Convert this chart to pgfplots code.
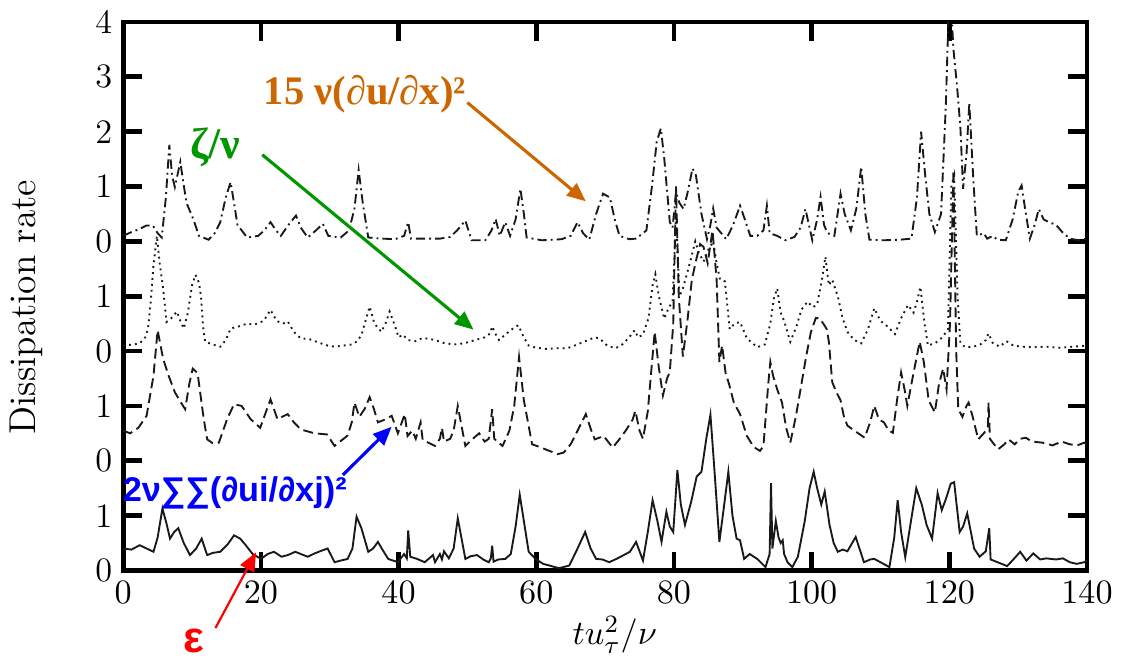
\documentclass[border=0pt]{standalone}
\usepackage{fontspec}
\usepackage{pgfplots}
\pgfplotsset{compat=1.18}
\usepackage{pgfplotstable}
\usetikzlibrary{arrows.meta}
\newfontfamily\annserif{Liberation Serif}
\newfontfamily\annsans{Liberation Sans}
\definecolor{annorange}{RGB}{204,102,0}
\definecolor{anngreen}{RGB}{0,150,0}
\definecolor{annblue}{RGB}{0,0,255}
\definecolor{annred}{RGB}{255,0,0}

% epsilon (solid, offset 0)
\pgfplotstableread{
x v
0 0.40
1.2 0.38
2.4 0.46
3.4 0.40
4.4 0.34
5.0 0.60
5.7 1.13
6.3 0.85
6.8 0.58
7.4 0.70
8.0 0.77
8.8 0.50
9.7 0.28
10.6 0.40
11.4 0.58
12.2 0.28
13.0 0.32
14.1 0.34
15.2 0.48
16.1 0.64
17.0 0.58
17.8 0.46
18.8 0.30
20.0 0.21
21.0 0.30
21.9 0.34
23.0 0.25
23.9 0.28
25.0 0.34
25.8 0.30
26.8 0.25
27.8 0.31
28.8 0.36
29.7 0.40
30.7 0.15
31.6 0.18
32.6 0.21
33.3 0.40
33.9 0.98
34.6 0.77
35.6 0.34
36.3 0.40
37.0 0.52
37.8 0.35
38.5 0.21
39.9 0.15
40.8 0.30
41.2 0.22
41.4 0.73
41.7 0.25
42.7 0.21
43.8 0.15
45.0 0.28
45.3 0.15
46.0 0.30
46.3 0.20
46.6 0.35
47.3 0.22
48.0 0.40
48.6 0.95
49.2 0.55
49.7 0.21
50.5 0.26
51.4 0.28
52.3 0.20
53.1 0.15
53.4 0.22
53.6 0.45
53.8 0.16
54.5 0.20
55.5 0.21
56.3 0.30
57.0 0.80
57.6 1.38
58.2 0.90
58.9 0.34
59.9 0.21
61.0 0.12
61.9 0.09
63.3 0.04
64.8 0.09
66.0 0.40
67.1 0.70
67.9 0.40
68.7 0.21
69.6 0.20
70.6 0.15
71.8 0.22
73.0 0.30
73.6 0.34
74.5 0.52
75.5 0.18
76.2 0.70
76.9 1.28
77.6 0.90
78.2 0.52
78.9 1.07
79.4 0.80
79.9 0.70
80.5 1.83
81.0 1.20
81.6 0.83
82.5 1.25
83.3 1.71
84.0 1.80
84.7 2.40
85.3 2.84
85.9 1.80
86.6 0.52
87.2 1.10
87.9 1.80
88.5 1.00
89.1 0.58
89.6 0.55
90.2 0.21
91.0 0.30
92.1 0.21
93.3 0.06
93.9 0.30
94.1 1.59
94.3 0.40
94.6 0.70
94.8 0.90
95.2 0.60
95.5 0.50
95.8 0.55
96.0 0.30
96.5 0.15
97.2 0.06
98.0 0.25
99.0 0.90
99.7 1.50
100.3 1.80
100.8 1.50
101.4 1.20
101.9 1.44
102.6 0.83
103.2 0.50
103.8 0.34
104.5 0.38
105.2 0.35
106.4 0.61
107.6 0.15
108.5 0.20
109.1 0.21
110.0 0.15
111.3 0.06
112.0 0.60
112.5 1.28
113.0 0.70
113.6 0.24
114.3 0.80
115.2 1.50
116.0 1.20
116.7 0.83
117.5 0.58
118.3 1.41
118.9 1.10
119.5 1.30
120.2 1.58
120.7 1.61
121.5 0.70
122.0 0.80
122.6 1.04
123.6 0.40
124.4 0.25
125.3 0.35
125.8 0.77
126.0 0.20
127.0 0.15
128.4 0.08
129.3 0.20
130.3 0.34
131.2 0.18
132.2 0.31
133.2 0.20
134.1 0.22
135.5 0.20
136.5 0.22
137.5 0.15
138.5 0.12
139.6 0.15
140 0.18
}\epsdata

% 2 nu sum sum (dui/dxj)^2 (dashed, offset 2)
\pgfplotstableread{
x v
0 0.55
1.0 0.50
2.2 0.60
3.4 0.82
4.4 1.55
5.0 2.38
5.8 1.86
6.6 1.55
7.5 1.25
8.2 1.10
9.0 0.94
9.6 1.40
10.1 1.68
10.8 1.60
11.7 0.76
12.2 0.39
13.0 0.32
13.9 0.33
15.1 0.76
16.1 1.03
17.2 1.00
18.5 0.76
19.9 0.60
21.4 1.12
22.4 0.76
23.9 0.85
24.8 0.70
25.8 0.57
27.8 0.50
29.6 0.48
30.7 0.27
31.5 0.35
32.6 0.46
33.2 0.70
33.6 1.06
34.3 0.80
35.1 0.95
35.8 1.16
36.4 0.95
37.0 0.70
38.0 0.75
39.0 0.82
39.9 0.50
40.9 0.85
41.3 0.45
42.0 0.55
42.5 0.40
43.2 0.70
43.5 0.38
44.3 0.33
45.3 0.27
46.0 0.40
46.3 0.60
46.6 0.35
47.5 0.40
48.0 0.55
48.6 1.00
49.2 0.60
49.7 0.27
50.6 0.38
51.7 0.50
52.5 0.35
53.1 0.40
53.6 0.94
53.9 0.40
55.1 0.27
56.1 0.55
56.8 1.00
57.5 1.89
58.2 1.10
59.4 0.30
60.5 0.25
61.5 0.20
63.1 0.12
64.0 0.15
65.0 0.30
66.2 0.60
67.2 0.85
68.0 0.55
68.5 0.39
69.8 0.45
71.1 0.24
72.0 0.38
73.0 0.55
74.0 0.75
74.4 0.91
75.0 0.55
75.5 0.40
76.2 0.90
77.2 2.35
77.8 1.70
78.4 1.19
79.0 1.50
79.4 1.62
79.9 2.50
80.3 5.00
80.7 3.00
81.3 1.90
82.0 2.60
82.6 3.30
83.3 3.70
83.8 3.95
84.3 3.90
84.9 3.60
85.6 4.20
86.2 3.30
86.6 1.80
87.0 2.10
87.5 1.60
88.0 1.40
88.7 1.06
89.6 0.85
90.6 0.45
91.6 0.25
92.5 0.18
93.0 0.27
93.7 1.40
94.0 1.80
94.4 1.55
95.0 1.30
95.7 1.06
96.3 0.60
96.9 0.33
97.7 0.80
98.4 1.31
99.2 1.90
99.9 2.35
100.6 2.60
101.1 2.60
101.7 2.50
102.2 2.40
102.5 2.17
103.0 1.43
103.6 1.25
104.2 1.10
104.7 0.80
105.2 0.64
106.2 0.55
107.7 0.42
108.5 0.70
109.1 1.00
109.8 0.75
110.5 0.70
111.2 0.55
111.8 0.51
112.4 1.10
113.0 1.61
113.5 1.30
113.9 1.00
114.8 1.60
115.7 2.17
116.3 1.80
117.0 1.10
117.9 0.88
118.5 1.40
119.1 1.68
119.6 1.30
120.1 2.50
120.6 5.30
121.0 2.00
121.3 0.94
121.9 0.80
122.5 1.00
122.8 1.06
123.4 0.80
124.2 0.39
125.0 0.50
125.6 0.60
125.7 1.06
125.9 0.40
126.5 0.30
127.1 0.21
128.0 0.30
128.6 0.39
129.5 0.30
130.3 0.40
131.1 0.42
132.0 0.35
133.5 0.33
135.0 0.28
136.3 0.35
137.5 0.30
138.6 0.28
139.6 0.33
140 0.30
}\gradsum

% zeta/nu (dotted, offset 4)
\pgfplotstableread{
x v
0 0.10
1.5 0.12
2.4 0.14
3.2 0.25
3.6 0.40
4.0 0.90
4.4 1.57
4.9 2.10
5.3 1.60
5.8 1.14
6.3 0.53
7.0 0.60
7.8 0.72
8.3 0.55
8.8 0.41
9.4 0.70
10.0 1.20
10.5 1.39
11.0 1.25
11.3 1.00
11.6 0.45
11.9 0.17
13.0 0.12
14.1 0.08
14.9 0.20
15.6 0.41
16.8 0.45
18.0 0.50
19.0 0.48
20.4 0.55
21.4 0.75
22.3 0.55
23.2 0.50
23.9 0.54
24.8 0.35
25.8 0.23
27.0 0.22
28.5 0.15
29.7 0.10
30.7 0.08
32.0 0.10
33.2 0.12
34.0 0.18
34.6 0.29
35.2 0.55
35.8 0.81
36.5 0.50
37.5 0.35
38.1 0.50
38.7 0.72
39.5 0.45
40.0 0.25
40.6 0.30
41.4 0.20
42.5 0.18
43.5 0.24
44.5 0.22
45.3 0.20
46.5 0.15
48.0 0.12
49.5 0.14
51.1 0.20
52.5 0.25
53.3 0.32
53.6 0.45
54.0 0.33
54.6 0.20
55.5 0.30
56.5 0.40
57.4 0.47
58.2 0.25
58.9 0.10
60.0 0.06
61.4 0.04
63.0 0.05
64.5 0.05
66.0 0.12
67.5 0.20
68.5 0.25
69.2 0.23
70.3 0.10
71.5 0.05
72.5 0.12
73.5 0.25
74.3 0.38
74.8 0.25
75.5 0.30
76.3 0.60
76.9 1.20
77.3 1.40
77.8 1.00
78.6 0.59
79.2 0.78
79.8 0.90
80.3 2.50
80.8 1.00
81.3 1.14
82.3 1.60
83.1 2.00
83.6 1.80
84.3 1.63
85.0 1.85
85.7 2.00
86.2 1.60
86.7 1.30
87.4 1.27
88.1 0.40
88.8 0.50
89.6 0.53
90.6 0.23
92.1 0.07
93.2 0.12
94.0 0.50
94.5 0.95
95.0 1.14
95.5 0.70
96.0 0.55
96.9 0.17
97.8 0.45
98.5 0.75
99.4 0.90
100.2 0.80
100.8 0.85
101.5 1.30
102.0 1.72
102.5 1.20
103.0 1.30
103.8 1.00
104.5 0.60
105.2 0.35
106.2 0.20
107.2 0.14
108.2 0.40
109.1 0.78
110.0 0.55
111.0 0.45
112.1 0.31
113.0 0.60
114.0 0.84
114.8 0.70
115.3 0.90
115.8 1.17
116.4 0.50
116.9 0.10
118.0 0.15
119.0 0.25
119.8 0.40
120.3 3.00
120.7 3.20
121.2 1.00
121.6 0.15
122.3 0.07
123.5 0.08
124.5 0.12
125.3 0.20
125.7 0.32
126.3 0.15
127.3 0.08
128.3 0.18
129.3 0.10
130.5 0.08
132.0 0.07
134.0 0.08
136.0 0.06
138.0 0.08
140 0.10
}\zetadata

% 15 nu (du/dx)^2 (dash-dot, offset 6)
\pgfplotstableread{
x v
0 0.10
1.2 0.17
2.3 0.22
3.4 0.29
4.3 0.29
5.0 0.15
5.6 0.07
6.2 0.80
6.7 1.76
7.1 1.20
7.5 0.99
8.3 1.45
8.7 1.10
9.2 0.70
10.2 0.40
11.0 0.10
12.4 0.03
13.3 0.15
14.1 0.35
14.9 0.80
15.6 1.08
16.1 0.70
16.6 0.30
18.0 0.07
19.6 0.10
20.5 0.20
21.4 0.35
22.2 0.20
22.9 0.10
24.0 0.30
25.1 0.47
25.8 0.25
26.8 0.07
28.0 0.20
29.0 0.32
29.8 0.10
31.6 0.07
32.8 0.20
33.6 0.60
34.2 1.30
34.8 0.70
35.6 0.07
37.5 0.05
39.5 0.04
40.8 0.10
41.4 0.35
41.8 0.05
43.0 0.05
44.7 0.05
46.0 0.05
47.5 0.08
48.5 0.20
49.7 0.38
50.6 0.02
52.6 0.02
53.5 0.20
54.1 0.41
54.7 0.10
55.5 0.35
56.2 0.10
57.0 0.40
57.7 0.96
58.2 0.50
58.6 0.07
60.8 0.02
62.5 0.03
63.7 0.04
65.0 0.10
66.0 0.35
66.8 0.15
67.7 0.03
68.7 0.50
69.7 0.87
70.7 0.80
71.4 0.40
72.1 0.10
73.5 0.04
74.5 0.05
76.0 0.20
76.8 1.00
77.5 1.82
78.1 2.06
78.6 1.50
79.4 0.35
79.8 0.25
80.3 0.90
80.8 0.70
81.4 0.59
82.0 0.90
82.7 1.33
83.2 1.20
84.0 0.50
84.8 0.04
85.3 0.30
85.7 0.60
86.2 0.25
87.6 0.04
88.6 0.30
89.6 0.65
90.3 0.40
91.1 0.10
92.1 0.10
93.0 0.20
93.5 0.65
93.9 0.15
95.0 0.10
96.2 0.02
97.5 0.08
98.4 0.25
99.1 0.59
100.1 0.02
100.8 0.40
101.3 0.81
101.8 0.30
102.3 0.15
103.3 0.10
104.2 0.87
104.8 0.50
105.7 0.20
106.5 0.60
107.2 1.36
107.8 0.50
108.4 0.03
110.5 0.02
112.8 0.03
114.5 0.05
115.3 0.80
115.9 2.00
116.5 1.20
117.1 0.50
117.9 0.17
118.8 0.50
119.5 2.50
119.9 4.20
120.3 4.20
120.6 3.50
121.1 2.86
121.6 2.10
122.0 0.96
122.5 1.60
122.9 2.52
123.5 1.10
124.0 0.10
125.0 0.15
125.5 0.05
126.3 0.10
127.0 0.03
128.2 0.02
129.2 0.40
130.0 0.90
130.5 1.02
131.0 0.60
131.7 0.05
132.4 0.30
133.0 0.59
133.7 0.40
134.5 0.35
135.5 0.30
136.4 0.17
137.5 0.05
138.8 0.02
140 0.05
}\dudxdata

\begin{document}
\begin{tikzpicture}
\begin{axis}[
  width=10.86cm, height=6.18cm, scale only axis,
  xmin=0, xmax=140, ymin=0, ymax=10,
  xtick={0,20,...,140},
  ytick={0,1,...,10},
  yticklabels={0,1,0,1,0,1,0,1,2,3,4},
  tick align=inside,
  major tick length=6pt,
  every tick/.style={black, line width=1.5pt},
  axis line style={line width=1.5pt},
  tick label style={font=\fontsize{11}{13}\selectfont},
  xlabel={$tu_\tau^2/\nu$},
  ylabel={Dissipation rate},
  xlabel style={font=\fontsize{11}{13}\selectfont, at={(axis description cs:0.51,-0.117)}, anchor=center},
  ylabel style={font=\fontsize{12}{14}\selectfont, at={(axis description cs:-0.1,0.48)}, anchor=center},
  clip mode=individual,
  every axis plot/.append style={black!90, line width=0.6pt},
]
\addplot[solid] table[x=x, y=v] {\epsdata};
\addplot[dash pattern=on 3.2pt off 1.6pt] table[x=x, y expr=\thisrow{v}+2] {\gradsum};
\addplot[dash pattern=on 0.6pt off 1.3pt] table[x=x, y expr=\thisrow{v}+4] {\zetadata};
\addplot[dash pattern=on 3pt off 1.3pt on 0.6pt off 1.3pt] table[x=x, y expr=\thisrow{v}+6] {\dudxdata};

% annotations
\node[text=annorange, font=\annserif\bfseries\fontsize{13}{15}\selectfont] at (axis cs:35.1,8.68) {15 ν(∂u/∂x)²};
\draw[annorange, line width=1pt, -{Triangle[length=6pt,width=5pt]}] (axis cs:50.0,8.53) -- (axis cs:67.2,6.73);
\node[text=anngreen, font=\annserif\bfseries\fontsize{14}{16}\selectfont] at (axis cs:13.4,7.71) {ζ/ν};
\draw[anngreen, line width=1pt, -{Triangle[length=6pt,width=5pt]}] (axis cs:20.2,7.58) -- (axis cs:50.9,4.39);
\node[text=annblue, font=\annsans\bfseries\fontsize{11}{13}\selectfont] at (axis cs:16.2,1.41) {2ν∑∑(∂ui/∂xj)²};
\draw[annblue, line width=1pt, -{Triangle[length=6pt,width=5pt]}] (axis cs:31.9,1.74) -- (axis cs:39.0,2.62);
\node[text=annred, font=\annsans\bfseries\fontsize{14}{16}\selectfont] at (axis cs:10.2,-1.28) {ε};
\draw[annred, line width=0.7pt, -{Triangle[length=6pt,width=5pt]}] (axis cs:13.4,-1.05) -- (axis cs:19.3,0.33);
\end{axis}
\end{tikzpicture}
\end{document}
